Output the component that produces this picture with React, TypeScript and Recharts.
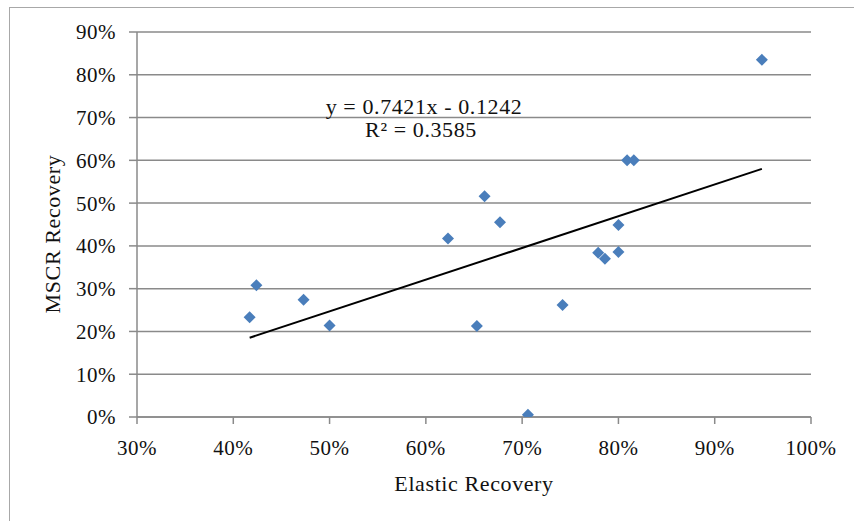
import React from "react";
import { ScatterChart, Scatter, XAxis, YAxis, CartesianGrid } from "recharts";

// Elastic Recovery (%) vs MSCR Recovery (%)
const elasticRecovery = [41.7, 42.4, 47.3, 50.0, 62.3, 65.3, 66.1, 67.7, 70.6, 74.2, 77.9, 78.6, 80.0, 80.0, 80.9, 81.6, 94.9];
const mscrRecovery = [23.3, 30.8, 27.4, 21.4, 41.7, 21.3, 51.6, 45.5, 0.5, 26.2, 38.4, 37.0, 44.9, 38.6, 60.0, 60.0, 83.5];

const xTicks = [30, 40, 50, 60, 70, 80, 90, 100];
const yTicks = [0, 10, 20, 30, 40, 50, 60, 70, 80, 90];

// Linear trend line as stated on the chart: y = 0.7421x - 0.1242
const trendSlope = 0.7421;
const trendIntercept = -0.1242;
const equationText = "y = 0.7421x - 0.1242";
const rSquaredText = "R² = 0.3585";

const xTitle = "Elastic Recovery";
const yTitle = "MSCR Recovery";

const points = elasticRecovery.map((x, i) => ({ x, y: mscrRecovery[i] }));
const xMin = Math.min(...elasticRecovery);
const xMax = Math.max(...elasticRecovery);
const trend = [xMin, xMax].map((x) => ({
  x,
  y: (trendSlope * (x / 100) + trendIntercept) * 100,
}));

const FONT = '"Liberation Serif", "Times New Roman", serif';
const GRAY = "#8a8a8a";

const Diamond = (p: any) => {
  const { cx, cy } = p;
  const r = 6;
  return (
    <polygon
      points={`${cx},${cy - r} ${cx + r},${cy} ${cx},${cy + r} ${cx - r},${cy}`}
      fill="#4A7EBB"
    />
  );
};

const NoShape = () => <g />;

export default function App() {
  return (
    <div style={{ position: "relative", width: 854, height: 521, overflow: "hidden", background: "#fff" }}>
      <style>{"html,body{margin:0;padding:0;overflow:hidden;background:#fff}"}</style>
      <div
        style={{
          position: "absolute",
          left: 9,
          top: 7,
          width: 870,
          height: 540,
          border: "1px solid #a8a8a8",
          boxSizing: "border-box",
        }}
      />
      <div style={{ position: "absolute", left: 0, top: 0 }}>
        <ScatterChart width={854} height={521} margin={{ top: 32, right: 43, bottom: 64, left: 77 }}>
          <CartesianGrid vertical={false} stroke={GRAY} strokeWidth={1.5} />
          <XAxis
            type="number"
            dataKey="x"
            domain={[30, 100]}
            ticks={xTicks}
            tickFormatter={(v: number) => `${v}%`}
            height={40}
            interval={0}
            axisLine={{ stroke: GRAY, strokeWidth: 1.5 }}
            tickLine={{ stroke: GRAY, strokeWidth: 1.5 }}
            tickSize={7}
            tickMargin={16}
            tick={{ fill: "#111", fontSize: 21, fontFamily: FONT, letterSpacing: 0.5 }}
            allowDataOverflow
          />
          <YAxis
            type="number"
            dataKey="y"
            domain={[0, 90]}
            ticks={yTicks}
            tickFormatter={(v: number) => `${v}%`}
            width={60}
            interval={0}
            axisLine={{ stroke: GRAY, strokeWidth: 1.5 }}
            tickLine={{ stroke: GRAY, strokeWidth: 1.5 }}
            tickSize={8}
            tickMargin={13}
            tick={{ fill: "#111", fontSize: 21, fontFamily: FONT, letterSpacing: 0.5 }}
            allowDataOverflow
          />
          <Scatter
            name="trend"
            data={trend}
            line={{ stroke: "#000", strokeWidth: 2 }}
            shape={NoShape}
            isAnimationActive={false}
            legendType="none"
          />
          <Scatter name="data" data={points} shape={Diamond} isAnimationActive={false} />
        </ScatterChart>
      </div>
      <svg
        width={854}
        height={521}
        style={{ position: "absolute", left: 0, top: 0, pointerEvents: "none" }}
        fontFamily={FONT}
        fill="#111"
      >
        <text x={424} y={114} fontSize={22} letterSpacing={0.6} textAnchor="middle">
          {equationText}
        </text>
        <text x={421} y={137} fontSize={22} letterSpacing={0.6} textAnchor="middle">
          {rSquaredText}
        </text>
        <text x={474} y={491} fontSize={22} letterSpacing={0.6} textAnchor="middle">
          {xTitle}
        </text>
        <text
          x={60}
          y={234}
          fontSize={22}
          letterSpacing={0.6}
          textAnchor="middle"
          transform="rotate(-90 60 234)"
        >
          {yTitle}
        </text>
      </svg>
    </div>
  );
}
